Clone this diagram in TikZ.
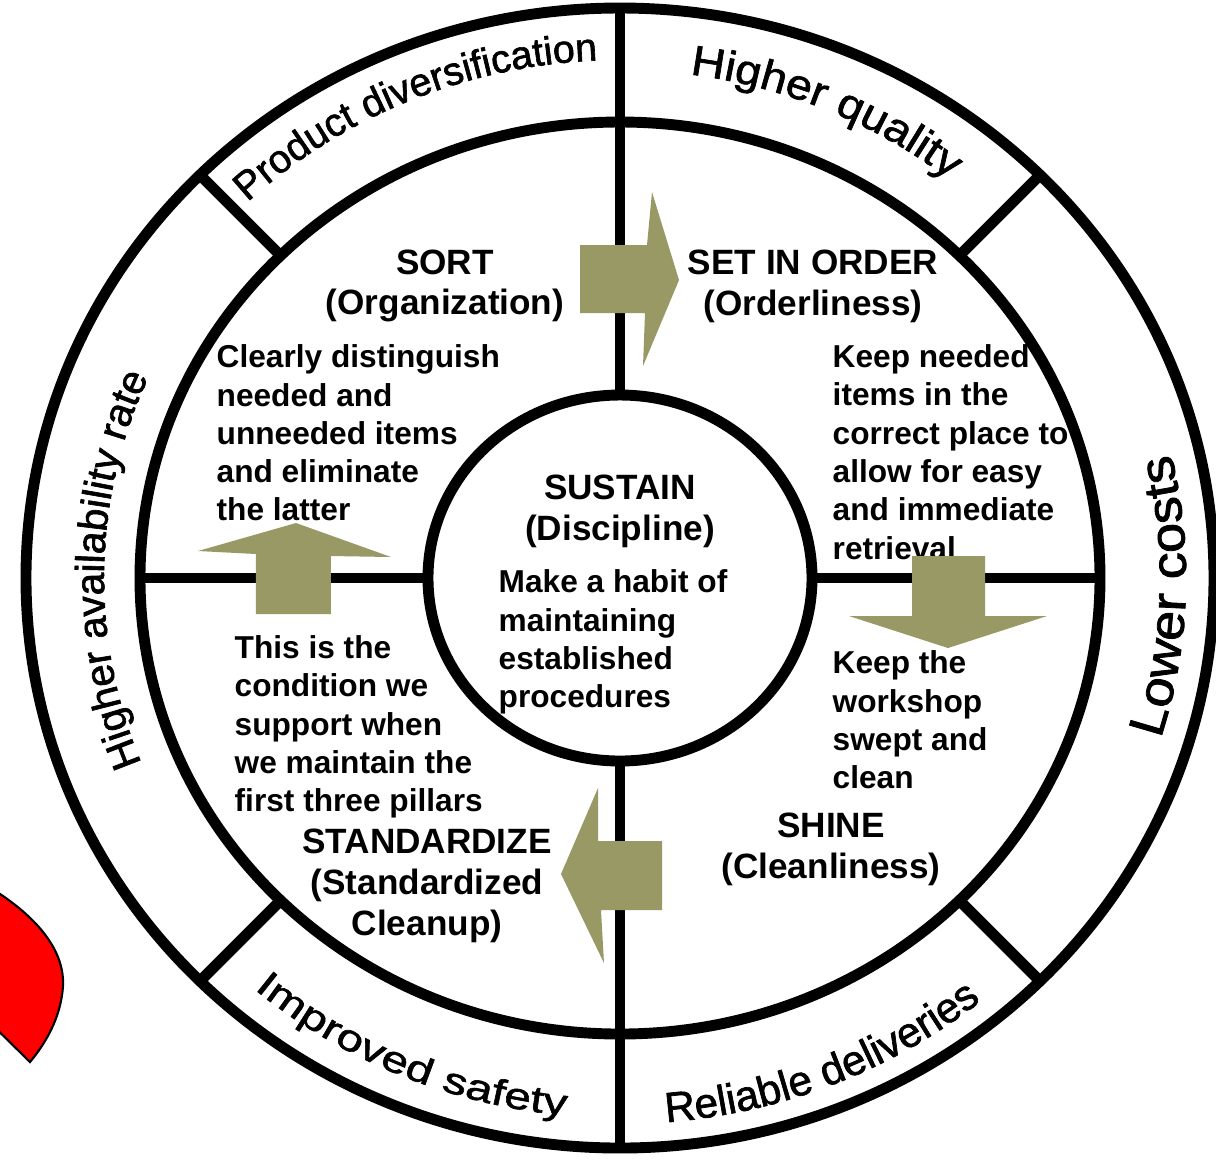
\documentclass[tikz,border=0pt]{standalone}
\usepackage{fontspec}
\setmainfont{Liberation Sans}
\newfontfamily\ringfont[FakeBold=1.6]{Liberation Sans}
\newfontfamily\ringwidefont[FakeBold=1.6, FakeStretch=1.1]{Liberation Sans}
\newfontfamily\ringwiderfont[FakeBold=1.6, FakeStretch=1.3]{Liberation Sans}
\usetikzlibrary{decorations.text}

\definecolor{pillar}{RGB}{153,153,102}

\tikzset{
  ring/.style={line width=3.1pt},
  title/.style={font=\bfseries\fontsize{10}{11.6}\selectfont, align=center, inner sep=0pt},
  note/.style={font=\bfseries\fontsize{9}{10.9}\selectfont, align=left, anchor=west, inner sep=0pt},
  pillarrow/.style={fill=pillar, draw=none},
  ringlabel/.style={decorate, decoration={text along path, text align=center, text={#1}}},
}

\begin{document}
\begin{tikzpicture}[x=0.01cm, y=0.01cm]
	\useasboundingbox (-620,-581) rectangle (596,578);

	% red piece sticking in from the left
	\begin{scope}
		\clip (-620,-581) rectangle (596,578);
		\draw[fill=red, line width=0.6pt] (-650,-298) .. controls (-590,-330) and (-555,-368) .. (-557,-408)
			.. controls (-559,-440) and (-575,-466) .. (-590,-484) -- (-650,-425) -- cycle;
	\end{scope}

	% rings and dividers
	\draw[ring] (0,0) ellipse [x radius=594, y radius=570];
	\draw[ring] (0,0) ellipse [x radius=480, y radius=456];
	\foreach \a in {45,135,225,315}
		\draw[ring] (\a:480 and 456) -- (\a:594 and 570);
	\draw[ring] (0,570) -- (0,-570);
	\draw[ring] (-480,0) -- (480,0);
	\draw[ring, fill=white] (0,0) ellipse [x radius=192, y radius=183];

	% the five pillars
	\node[title] (sort) at (-175,292) {SORT\\(Organization)};
	\node[title] (setorder) at (193,292) {SET IN ORDER\\(Orderliness)};
	\node[title] (sustain) at (0,67) {SUSTAIN\\(Discipline)};
	\node[title] (shine) at (211,-271) {SHINE\\(Cleanliness)};
	\node[title] (standardize) at (-193,-308) {STANDARDIZE\\(Standardized\\Cleanup)};

	\node[note] (sortnote) at (-404,145) {Clearly distinguish\\needed and\\unneeded items\\and eliminate\\the latter};
	\node[note] (ordernote) at (212,126) {Keep needed\\items in the\\correct place to\\allow for easy\\and immediate\\retrieval};
	\node[note] (sustainnote) at (-122,-64) {Make a habit of\\maintaining\\established\\procedures};
	\node[note] (standnote) at (-386,-149) {This is the\\condition we\\support when\\we maintain the\\first three pillars};
	\node[note] (shinenote) at (212,-142) {Keep the\\workshop\\swept and\\clean};

	% block arrows between the pillars
	\fill[pillarrow] (-40,333) -- (27,333) -- (32,386) -- (59,298) -- (23,212) -- (25,265) -- (-40,265) -- cycle;
	\fill[pillarrow] (292,22) -- (365,22) -- (365,-38) -- (427,-38) -- (328,-70) -- (229,-38) -- (292,-38) -- cycle;
	\fill[pillarrow] (42,-263) -- (-22,-263) -- (-22,-210) -- (-59,-296) -- (-16,-385) -- (-19,-332) -- (42,-332) -- cycle;
	\fill[pillarrow] (-364,-36) -- (-289,-36) -- (-289,22) -- (-229,21) -- (-324,55) -- (-422,27) -- (-364,24) -- cycle;

	% benefits round the outside
	\path[ringlabel={|\ringfont\fontsize{11.2}{14}\selectfont|Product diversification}]
		(139:541 and 518) arc[start angle=139, end angle=87, x radius=541, y radius=518];
	\path[ringlabel={|\ringwidefont\fontsize{12}{14}\selectfont|Higher quality}]
		(85:531 and 508) arc[start angle=85, end angle=49, x radius=531, y radius=508];
	\path[ringlabel={|\ringfont\fontsize{11.5}{14}\selectfont|Higher availability rate}]
		(205:516 and 494) arc[start angle=205, end angle=153, x radius=516, y radius=494];
	\path[ringlabel={|\ringwidefont\fontsize{14}{16}\selectfont|Lower costs}]
		(-27:566 and 542) arc[start angle=-27, end angle=23, x radius=566, y radius=542];
	\path[ringlabel={|\ringfont\fontsize{12}{14}\selectfont|Reliable deliveries}]
		(269:571 and 546) arc[start angle=269, end angle=315, x radius=571, y radius=546];
	\path[ringlabel={|\ringwiderfont\fontsize{10.5}{14}\selectfont|Improved safety}]
		(225:564 and 540) arc[start angle=225, end angle=269, x radius=564, y radius=540];
\end{tikzpicture}
\end{document}
